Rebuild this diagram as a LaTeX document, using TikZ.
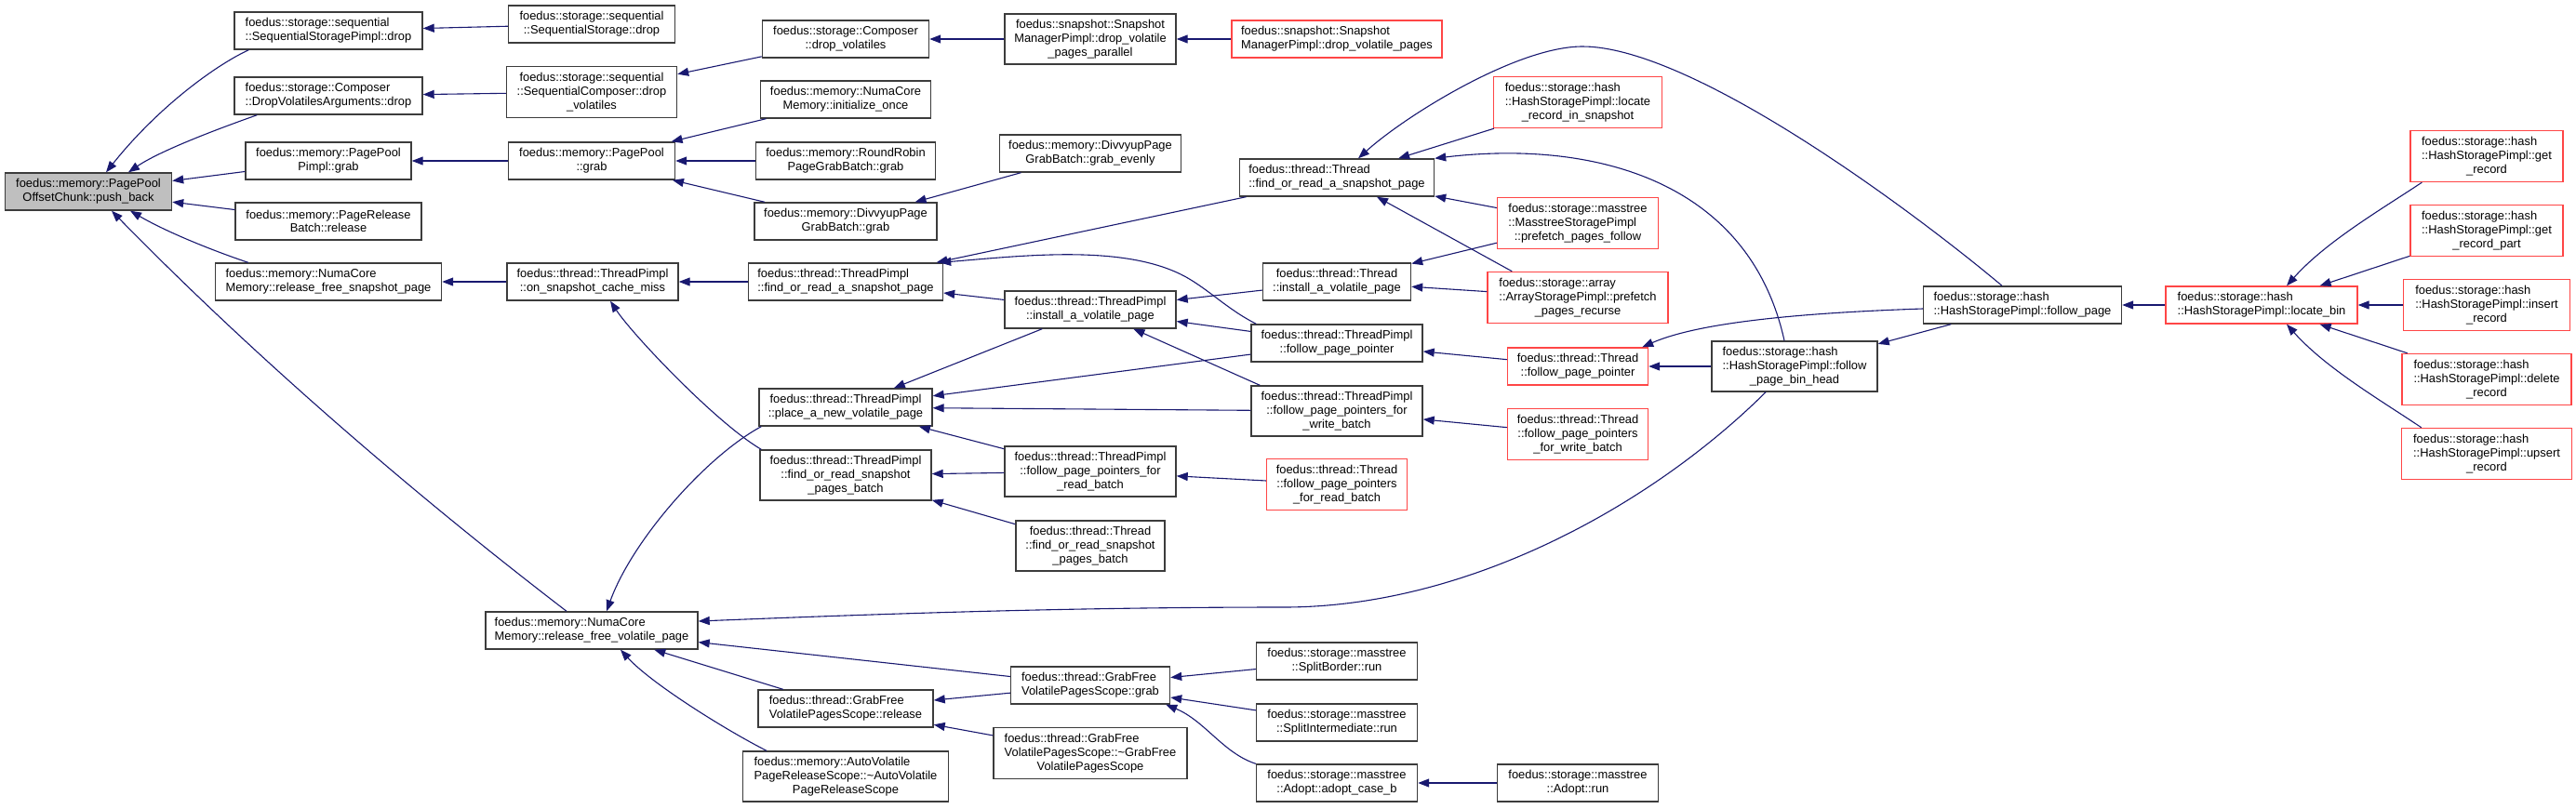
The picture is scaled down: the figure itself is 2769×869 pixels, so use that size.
\documentclass[tikz,border=0pt]{standalone}
\usepackage{fontspec}
\setmainfont{Liberation Sans}
\usetikzlibrary{arrows.meta}
\definecolor{edgec}{HTML}{191970}
\definecolor{redc}{RGB}{255,70,70}
\definecolor{boxc}{RGB}{60,60,60}
\definecolor{fillg}{HTML}{BFBFBF}
\newcommand\padl[2]{\setbox0\hbox{#2}\makebox[\wd0][l]{#1}}
\begin{document}
\begin{tikzpicture}[x=0.5pt,y=-0.5pt,
 nd/.style={draw=boxc, line width=0.7pt, fill=white, inner sep=0pt, align=center, font=\fontsize{6.45pt}{7.35pt}\selectfont},
 rd/.style={nd, draw=redc},
 sz/.style 2 args={minimum width=#1*0.5pt, minimum height=#2*0.5pt},
 cg/.style={draw=edgec, line width=0.55pt, -{Triangle[length=6pt,width=4.5pt]}},
]
\useasboundingbox (0,0) rectangle (2769,869);
% column 1
\node[nd,fill=fillg,sz={179}{40}] (pb) at (95,206) {foedus::memory::PagePool\\OffsetChunk::push\_back};
% column 2
\node[nd,align=left,sz={202}{40}] (ssp) at (353,33) {foedus::storage::sequential\\::SequentialStoragePimpl::drop};
\node[nd,align=left,sz={202}{40}] (dva) at (353,103) {foedus::storage::Composer\\::DropVolatilesArguments::drop};
\node[nd,sz={178}{40}] (ppp) at (353,173) {foedus::memory::PagePool\\Pimpl::grab};
\node[nd,sz={200}{40}] (prb) at (353,238) {foedus::memory::PageRelease\\Batch::release};
\node[nd,align=left,sz={243}{40}] (rfs) at (353,303) {foedus::memory::NumaCore\\Memory::release\_free\_snapshot\_page};
% column 3
\node[nd,sz={179}{40}] (ss) at (636,26) {foedus::storage::sequential\\::SequentialStorage::drop};
\node[nd,sz={183}{55}] (scd) at (636,99) {foedus::storage::sequential\\::SequentialComposer::drop\\\_volatiles};
\node[nd,sz={179}{40}] (pg) at (636,173) {foedus::memory::PagePool\\::grab};
\node[nd,sz={184}{40}] (ocm) at (637,303) {foedus::thread::ThreadPimpl\\::on\_snapshot\_cache\_miss};
\node[nd,align=left,sz={228}{40}] (rfv) at (636,678) {foedus::memory::NumaCore\\Memory::release\_free\_volatile\_page};
% column 4
\node[nd,sz={179}{40}] (cdv) at (909,42) {foedus::storage::Composer\\::drop\_volatiles};
\node[nd,sz={183}{40}] (nio) at (909,107) {foedus::memory::NumaCore\\Memory::initialize\_once};
\node[nd,sz={193}{40}] (rr) at (909,173) {foedus::memory::RoundRobin\\PageGrabBatch::grab};
\node[nd,sz={196}{40}] (dg) at (909,238) {foedus::memory::DivvyupPage\\GrabBatch::grab};
\node[nd,align=left,sz={209}{40}] (tpfs) at (909,303) {foedus::thread::ThreadPimpl\\::find\_or\_read\_a\_snapshot\_page};
\node[nd,sz={186}{40}] (tpnv) at (909,438) {foedus::thread::ThreadPimpl\\::place\_a\_new\_volatile\_page};
\node[nd,sz={184}{54}] (tpsb) at (909,511) {foedus::thread::ThreadPimpl\\::find\_or\_read\_snapshot\\\_pages\_batch};
\node[nd,align=left,sz={188}{40}] (grel) at (909,762) {foedus::thread::GrabFree\\VolatilePagesScope::release};
\node[nd,sz={221}{54}] (avr) at (909,835) {\padl{foedus::memory::AutoVolatile}{PageReleaseScope::\textasciitilde AutoVolatile}\\PageReleaseScope::\textasciitilde AutoVolatile\\PageReleaseScope};
% column 5
\node[nd,sz={184}{54}] (dvpp) at (1172,42) {foedus::snapshot::Snapshot\\ManagerPimpl::drop\_volatile\\\_pages\_parallel};
\node[nd,sz={195}{40}] (dge) at (1172,165) {foedus::memory::DivvyupPage\\GrabBatch::grab\_evenly};
\node[nd,sz={184}{40}] (tpiv) at (1172,333) {foedus::thread::ThreadPimpl\\::install\_a\_volatile\_page};
\node[nd,sz={184}{54}] (tpfr) at (1172,507) {foedus::thread::ThreadPimpl\\::follow\_page\_pointers\_for\\\_read\_batch};
\node[nd,sz={160}{54}] (tsb) at (1172,587) {foedus::thread::Thread\\::find\_or\_read\_snapshot\\\_pages\_batch};
\node[nd,align=left,sz={171}{40}] (gg) at (1172,737) {foedus::thread::GrabFree\\VolatilePagesScope::grab};
\node[nd,sz={208}{55}] (gdt) at (1172,810) {\padl{foedus::thread::GrabFree}{VolatilePagesScope::\textasciitilde GrabFree}\\VolatilePagesScope::\textasciitilde GrabFree\\VolatilePagesScope};
% column 6
\node[rd,align=left,sz={226}{40}] (dvp) at (1437,42) {foedus::snapshot::Snapshot\\ManagerPimpl::drop\_volatile\_pages};
\node[nd,align=left,sz={209}{40}] (tfs) at (1437,191) {foedus::thread::Thread\\::find\_or\_read\_a\_snapshot\_page};
\node[nd,sz={159}{40}] (tiv) at (1437,303) {foedus::thread::Thread\\::install\_a\_volatile\_page};
\node[nd,sz={184}{40}] (tpfp) at (1437,369) {foedus::thread::ThreadPimpl\\::follow\_page\_pointer};
\node[nd,sz={184}{54}] (tpfw) at (1437,442) {foedus::thread::ThreadPimpl\\::follow\_page\_pointers\_for\\\_write\_batch};
\node[rd,sz={151}{55}] (tfr) at (1437,521) {foedus::thread::Thread\\::follow\_page\_pointers\\\_for\_read\_batch};
\node[nd,sz={173}{40}] (sb) at (1437,711) {foedus::storage::masstree\\::SplitBorder::run};
\node[nd,sz={173}{40}] (si) at (1437,777) {foedus::storage::masstree\\::SplitIntermediate::run};
\node[nd,sz={173}{40}] (acb) at (1437,842) {foedus::storage::masstree\\::Adopt::adopt\_case\_b};
% column 7
\node[rd,sz={181}{55}] (lrs) at (1696,110) {\padl{foedus::storage::hash}{::HashStoragePimpl::locate}\\::HashStoragePimpl::locate\\\_record\_in\_snapshot};
\node[rd,sz={173}{55}] (ppf) at (1696,240) {foedus::storage::masstree\\\padl{::MasstreeStoragePimpl}{foedus::storage::masstree}\\::prefetch\_pages\_follow};
\node[rd,sz={194}{55}] (ppr) at (1696,320) {\padl{foedus::storage::array}{::ArrayStoragePimpl::prefetch}\\::ArrayStoragePimpl::prefetch\\\_pages\_recurse};
\node[rd,sz={151}{40}] (tfp) at (1696,394) {foedus::thread::Thread\\::follow\_page\_pointer};
\node[rd,sz={151}{55}] (tfw) at (1696,467) {foedus::thread::Thread\\::follow\_page\_pointers\\\_for\_write\_batch};
\node[nd,sz={173}{40}] (arun) at (1696,842) {foedus::storage::masstree\\::Adopt::run};
% column 8-11
\node[nd,sz={178}{54}] (fbh) at (1929,394) {\padl{foedus::storage::hash}{::HashStoragePimpl::follow}\\::HashStoragePimpl::follow\\\_page\_bin\_head};
\node[nd,align=left,sz={213}{40}] (fp) at (2174,328) {foedus::storage::hash\\::HashStoragePimpl::follow\_page};
\node[rd,align=left,sz={206}{40}] (lb) at (2431,328) {foedus::storage::hash\\::HashStoragePimpl::locate\_bin};
\node[rd,sz={164}{55}] (gr) at (2673,168) {\padl{foedus::storage::hash}{::HashStoragePimpl::get}\\::HashStoragePimpl::get\\\_record};
\node[rd,sz={164}{55}] (grp) at (2673,248) {\padl{foedus::storage::hash}{::HashStoragePimpl::get}\\::HashStoragePimpl::get\\\_record\_part};
\node[rd,sz={179}{55}] (ir) at (2673,328) {\padl{foedus::storage::hash}{::HashStoragePimpl::insert}\\::HashStoragePimpl::insert\\\_record};
\node[rd,sz={182}{55}] (dr) at (2673,408) {\padl{foedus::storage::hash}{::HashStoragePimpl::delete}\\::HashStoragePimpl::delete\\\_record};
\node[rd,sz={183}{55}] (ur) at (2673,488) {\padl{foedus::storage::hash}{::HashStoragePimpl::upsert}\\::HashStoragePimpl::upsert\\\_record};
% edges
\draw[cg] ([shift={(16,0)}]ssp.south west) .. controls (232,70) and (170,115) .. ([shift={(19,0)}]pb.north);
\draw[cg] ([shift={(25,0)}]dva.south west) .. controls (250,133) and (175,160) .. ([shift={(43,0)}]pb.north);
\draw[cg] (ppp) -- (pb);
\draw[cg] (prb) -- (pb);
\draw[cg] ([shift={(36,0)}]rfs.north west) .. controls (230,270) and (180,250) .. ([shift={(45,0)}]pb.south);
\draw[cg] ([shift={(-27,0)}]rfv.north) .. controls (430,520) and (262,372) .. ([shift={(25,0)}]pb.south);
\draw[cg] (ss) -- (ssp);
\draw[cg] (scd) -- (dva);
\draw[cg] (cdv) -- (scd);
\draw[cg] (dvpp) -- (cdv);
\draw[cg] (dvp) -- (dvpp);
\draw[cg] (pg) -- (ppp);
\draw[cg] (nio) -- (pg);
\draw[cg] (rr) -- (pg);
\draw[cg] (dg) -- (pg);
\draw[cg] (dge) -- (dg);
\draw[cg] (ocm) -- (rfs);
\draw[cg] (tpfs) -- (ocm);
\draw[cg] ([shift={(2,0)}]tpsb.north west) .. controls (770,455) and (680,360) .. ([shift={(19,0)}]ocm.south);
\draw[cg] ([shift={(3,0)}]tpnv.south west) .. controls (760,490) and (680,580) .. ([shift={(16,0)}]rfv.north);
\draw[cg] (gg) -- (rfv);
\draw[cg] (grel) -- (rfv);
\draw[cg] ([shift={(-85,0)}]avr.north) .. controls (780,785) and (700,735) .. ([shift={(31,0)}]rfv.south);
\draw[cg] ([shift={(-31,0)}]fbh.south) .. controls (1778,541) and (1580,653) .. (1380,653) .. controls (1150,653) and (950,660) .. ([shift={(0,-10)}]rfv.east);
\draw[cg] (tpiv) -- (tpfs);
\draw[cg] (tfs) -- (tpfs);
\draw[cg] ([shift={(6,0)}]tpfp.north west) .. controls (1320,333) and (1300,312) .. (1275,298) .. controls (1210,262) and (1100,275) .. ([shift={(-4,0)}]tpfs.north east);
\draw[cg] (tiv) -- (tpiv);
\draw[cg] (tpfp) -- (tpiv);
\draw[cg] ([shift={(10,0)}]tpfw.north west) -- (tpiv);
\draw[cg] (tpiv) -- (tpnv);
\draw[cg] (tpfp) -- (tpnv);
\draw[cg] (tpfw) -- (tpnv);
\draw[cg] (tpfr) -- (tpnv);
\draw[cg] (tpfr) -- (tpsb);
\draw[cg] (tsb) -- (tpsb);
\draw[cg] (tfr) -- (tpfr);
\draw[cg] (gg) -- (grel);
\draw[cg] (gdt) -- (grel);
\draw[cg] (sb) -- (gg);
\draw[cg] (si) -- (gg);
\draw[cg] (acb.north west) .. controls (1315,810) and (1295,775) .. ([shift={(-5,0)}]gg.south east);
\draw[cg] (arun) -- (acb);
\draw[cg] ([shift={(-22,0)}]fp.north) .. controls (2060,230) and (1820,50) .. (1701,50) .. controls (1630,50) and (1510,125) .. ([shift={(23,0)}]tfs.north);
\draw[cg] (lrs) -- (tfs);
\draw[cg] ([shift={(-11,0)}]fbh.north) .. controls (1880,194) and (1713,150) .. (tfs.north east);
\draw[cg] (ppf) -- (tfs);
\draw[cg] ([shift={(27,0)}]ppr.north west) -- ([shift={(43,0)}]tfs.south);
\draw[cg] (ppf) -- (tiv);
\draw[cg] (ppr) -- (tiv);
\draw[cg] (tfp) -- (tpfp);
\draw[cg] (fbh) -- (tfp);
\draw[cg] ([shift={(0,4)}]fp.west) .. controls (1950,336) and (1830,345) .. ([shift={(-7,0)}]tfp.north east);
\draw[cg] (fp) -- (fbh);
\draw[cg] (tfw) -- (tpfw);
\draw[cg] (lb) -- (fp);
\draw[cg] ([shift={(13,0)}]gr.south west) .. controls (2560,225) and (2500,260) .. ([shift={(27,0)}]lb.north);
\draw[cg] (grp) -- (lb);
\draw[cg] (ir) -- (lb);
\draw[cg] (dr) -- (lb);
\draw[cg] ([shift={(22,0)}]ur.north west) .. controls (2560,431) and (2500,396) .. ([shift={(27,0)}]lb.south);
\end{tikzpicture}
\end{document}
